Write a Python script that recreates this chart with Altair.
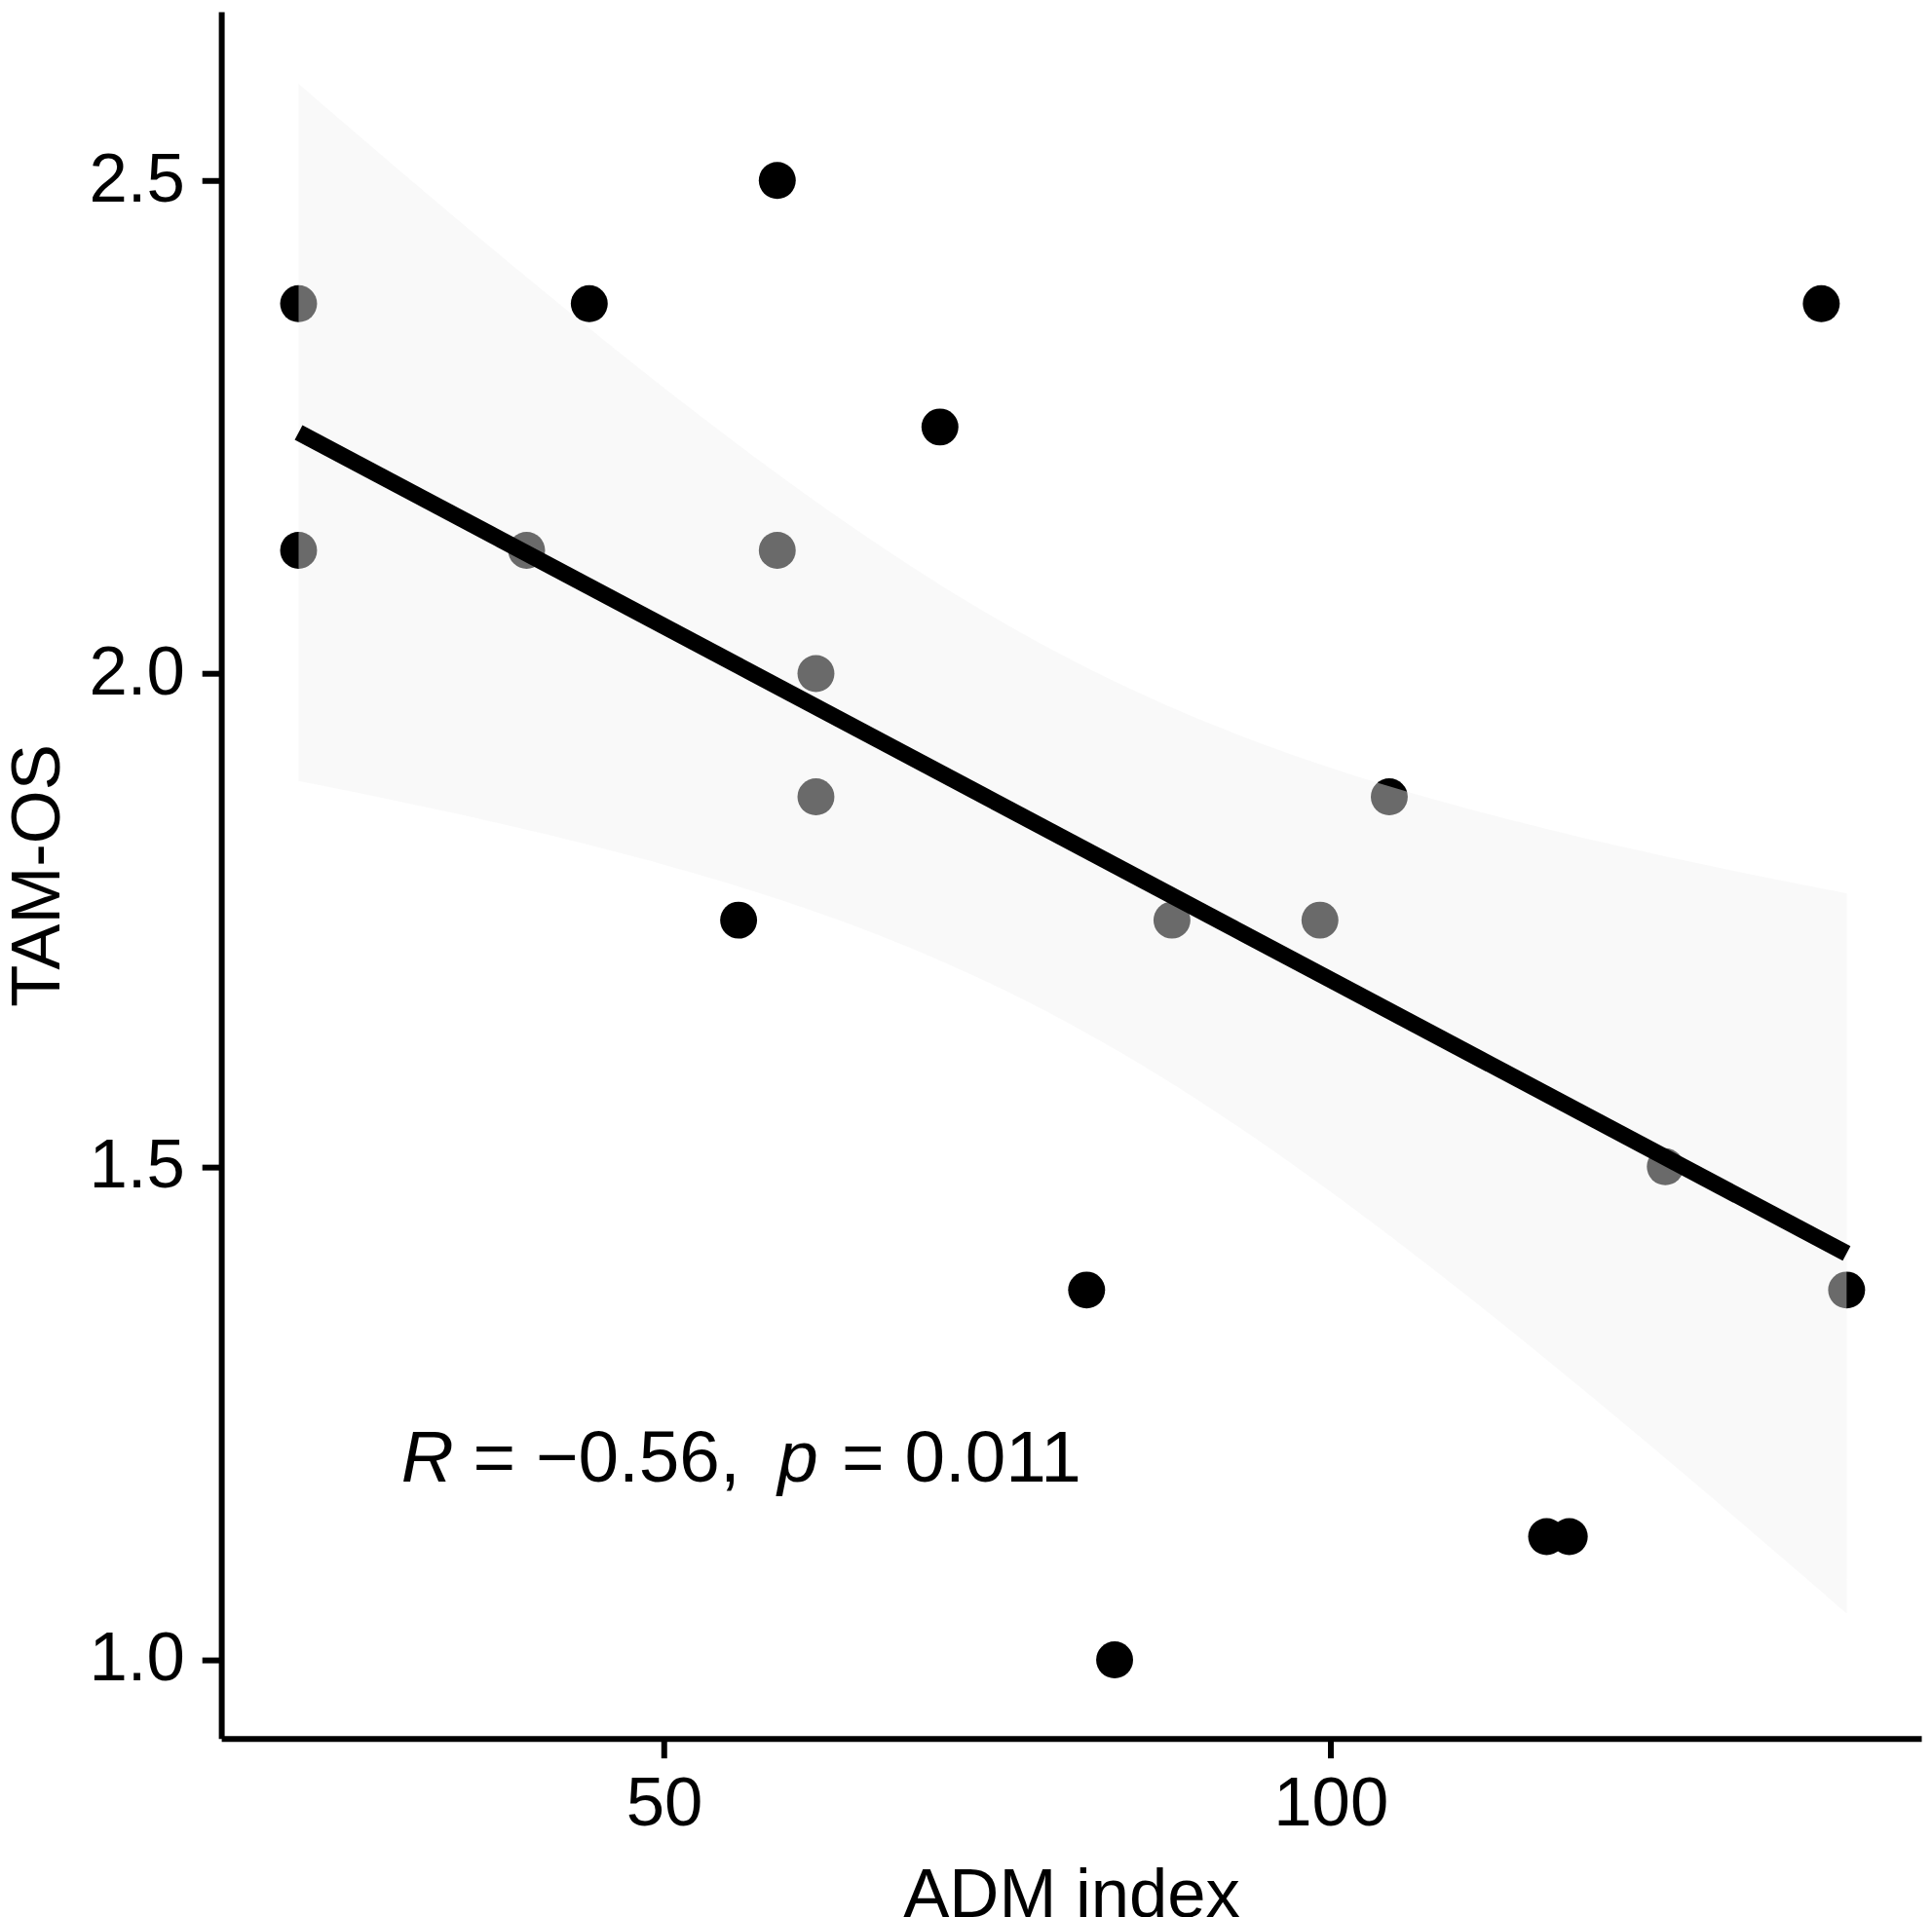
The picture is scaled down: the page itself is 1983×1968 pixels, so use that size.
import altair as alt
import pandas as pd

# ---- data ----
adm_index = [22.6, 22.6, 39.7, 44.4, 55.6, 58.5, 58.5, 61.4, 61.4, 70.7,
             81.7, 83.8, 88.1, 99.2, 104.4, 116.2, 117.9, 125.1, 136.8, 138.7]
tam_os = [2.375, 2.125, 2.125, 2.375, 1.75, 2.5, 2.125, 2.0, 1.875, 2.25,
          1.375, 1.0, 1.75, 1.75, 1.875, 1.125, 1.125, 1.5, 2.375, 1.375]
x_ticks = [50, 100]
y_ticks = [1.0, 1.5, 2.0, 2.5]
r_text = "= \u22120.56,"
p_text = "= 0.011"

df = pd.DataFrame({"adm": adm_index, "tam": tam_os})
one = pd.DataFrame({"k": [0]})

FONT = "Liberation Sans"
x_scale = alt.Scale(domain=[16.8, 144.3], nice=False, zero=False)
y_scale = alt.Scale(domain=[0.9203, 2.6711], nice=False, zero=False)

x_axis = alt.Axis(values=x_ticks, title="ADM index", grid=False,
                  domainColor="black", domainWidth=6, tickColor="black",
                  tickWidth=6, tickSize=20, labelFontSize=71, labelFont=FONT,
                  labelColor="black", labelPadding=13, labelFlush=False,
                  titleFont=FONT, titleFontSize=71, titleFontWeight="normal",
                  titleColor="black", titlePadding=24)
y_axis = alt.Axis(values=y_ticks, format=".1f", title="TAM-OS", grid=False,
                  domainColor="black", domainWidth=6, tickColor="black",
                  tickWidth=6, tickSize=20, labelFontSize=71, labelFont=FONT,
                  labelColor="black", labelPadding=18, labelFlush=False,
                  titleFont=FONT, titleFontSize=71, titleFontWeight="normal",
                  titleColor="black", titlePadding=16)

points = alt.Chart(df).mark_circle(size=1450, color="black", opacity=1).encode(
    x=alt.X("adm:Q", scale=x_scale, axis=x_axis),
    y=alt.Y("tam:Q", scale=y_scale, axis=y_axis),
)

band = (
    alt.Chart(df)
    .transform_joinaggregate(mx="mean(adm)", my="mean(tam)", n="count()",
                             xmin="min(adm)", xmax="max(adm)")
    .transform_calculate(dxdy="(datum.adm - datum.mx) * (datum.tam - datum.my)")
    .transform_calculate(dx2="pow(datum.adm - datum.mx, 2)")
    .transform_joinaggregate(sxy="sum(dxdy)", sxx="sum(dx2)")
    .transform_calculate(b="datum.sxy / datum.sxx")
    .transform_calculate(a="datum.my - datum.b * datum.mx")
    .transform_calculate(res2="pow(datum.tam - datum.a - datum.b * datum.adm, 2)")
    .transform_aggregate(sse="sum(res2)",
                         groupby=["a", "b", "mx", "sxx", "n", "xmin", "xmax"])
    .transform_calculate(g="sequence(0, 80)")
    .transform_flatten(["g"])
    .transform_calculate(xg="datum.xmin + datum.g * (datum.xmax - datum.xmin) / 79")
    .transform_calculate(fit="datum.a + datum.b * datum.xg")
    .transform_calculate(se="sqrt(datum.sse / (datum.n - 2)) * sqrt(1 / datum.n + pow(datum.xg - datum.mx, 2) / datum.sxx)")
    .transform_calculate(lo="datum.fit - 2.100922 * datum.se")
    .transform_calculate(hi="datum.fit + 2.100922 * datum.se")
    .mark_area(color="#f2f2f2", opacity=0.44)
    .encode(
        x=alt.X("xg:Q", scale=x_scale, axis=x_axis),
        y=alt.Y("lo:Q", scale=y_scale, axis=y_axis),
        y2="hi:Q",
    )
)

line = (
    alt.Chart(df)
    .transform_regression("adm", "tam")
    .mark_line(color="black", strokeWidth=17, strokeCap="butt")
    .encode(
        x=alt.X("adm:Q", scale=x_scale, axis=x_axis),
        y=alt.Y("tam:Q", scale=y_scale, axis=y_axis),
    )
)

def piece(text, dx, italic):
    return alt.Chart(one).mark_text(
        align="left", baseline="alphabetic", font=FONT, fontSize=75,
        fontStyle="italic" if italic else "normal", color="black", dx=dx,
    ).encode(x=alt.datum(30.3), y=alt.datum(1.181), text=alt.value(text))

annotation = (piece("R", 0, True) + piece(r_text, 74, False)
              + piece("p", 388, True) + piece(p_text, 454, False))

chart = (
    alt.layer(points, band, line, annotation)
    .properties(
        width=1752, height=1780,
        autosize=alt.AutoSizeParams(type="none"),
        padding={"left": 220, "top": 0, "right": 3, "bottom": 180},
        background="white",
    )
    .configure_view(stroke=None)
)

chart.save("out.html", embed_options={"renderer": "svg", "actions": False})
